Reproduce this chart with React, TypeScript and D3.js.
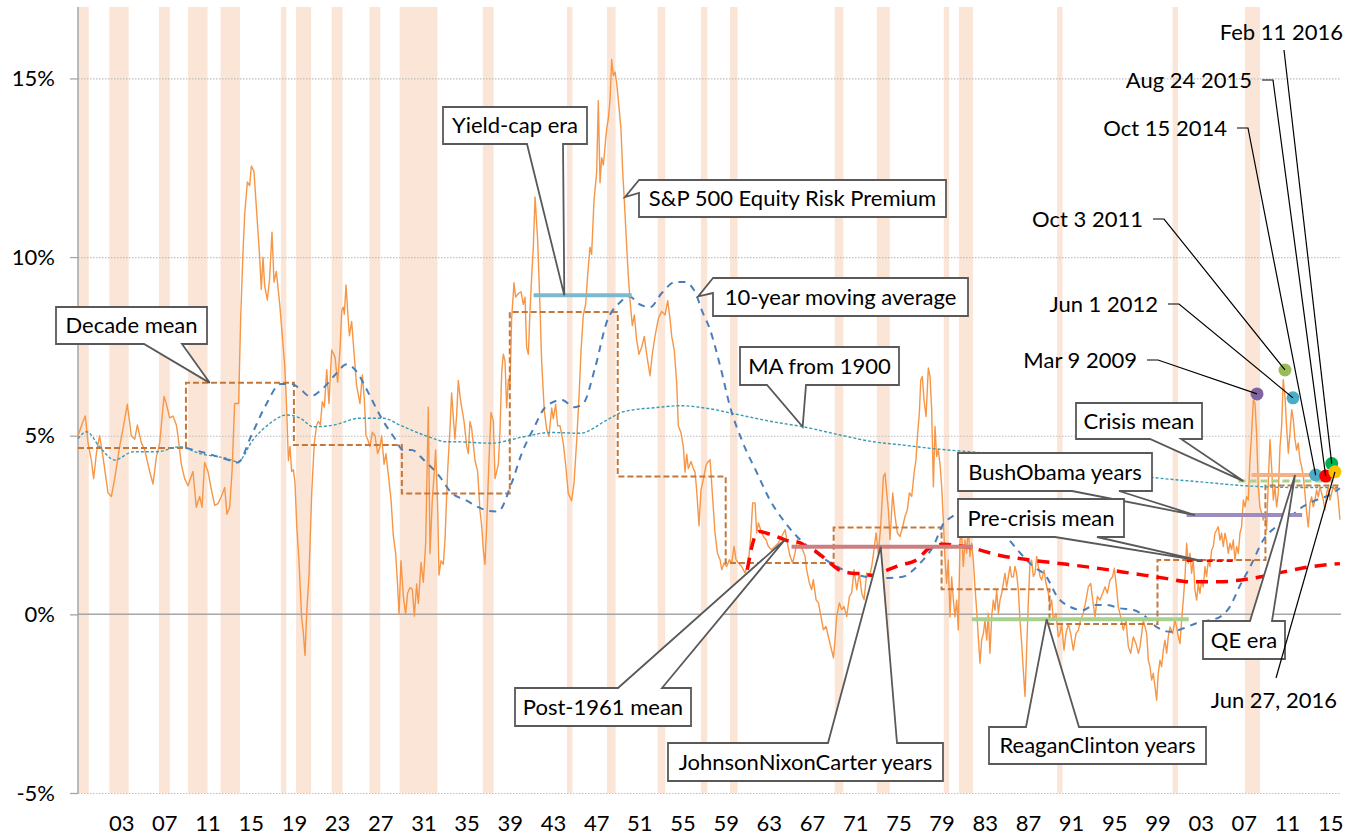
import * as d3 from "d3";
import { useEffect, useRef } from "react";

// recession shading, [start, end] in decimal years
const recessions = [
  [1900.0, 1901.0], [1902.9, 1904.7], [1907.5, 1908.5], [1910.2, 1912.0], [1913.2, 1915.0],
  [1918.8, 1919.3], [1920.2, 1921.6], [1923.5, 1924.5], [1927.0, 1928.0], [1929.8, 1933.3],
  [1937.5, 1938.5], [1945.3, 1945.8], [1949.0, 1949.8], [1953.7, 1954.4], [1957.7, 1958.3],
  [1960.4, 1961.1], [1970.1, 1970.9], [1974.0, 1975.2], [1980.2, 1980.7], [1981.6, 1982.9],
  [1990.7, 1991.2], [2001.4, 2001.9], [2008.1, 2009.5],
];

// S&P 500 equity risk premium, % (year, value)
const erp = [
  [1900.0, 5.0], [1900.46, 5.4], [1900.68, 5.55], [1900.93, 4.8], [1901.24, 4.3], [1901.45, 3.8], [1901.7, 4.5], [1902.0, 5.0],
  [1902.32, 4.4], [1902.78, 3.4], [1903.09, 3.3], [1903.4, 3.8], [1903.86, 4.7], [1904.17, 5.2], [1904.57, 5.88], [1904.94, 5.0],
  [1905.25, 4.9], [1905.5, 5.3], [1905.87, 4.8], [1906.18, 4.6], [1906.64, 4.0], [1906.95, 3.65], [1907.26, 4.4], [1907.57, 4.8],
  [1907.78, 5.5], [1907.97, 6.1], [1908.18, 5.9], [1908.49, 5.5], [1908.8, 5.55], [1909.11, 5.3], [1909.26, 5.0], [1909.57, 4.2],
  [1909.88, 3.8], [1910.19, 3.6], [1910.65, 4.0], [1910.96, 3.0], [1911.27, 3.3], [1911.49, 3.0], [1911.73, 4.25], [1912.04, 4.0],
  [1912.35, 3.5], [1912.66, 3.05], [1912.97, 3.1], [1913.28, 3.3], [1913.59, 3.55], [1913.8, 2.8], [1914.05, 3.0], [1914.27, 4.0],
  [1914.51, 5.9], [1914.88, 5.9], [1915.07, 8.3], [1915.28, 10.1], [1915.44, 11.2], [1915.69, 12.1], [1915.9, 12.0], [1916.06, 12.55],
  [1916.3, 12.4], [1916.52, 11.4], [1916.83, 10.0], [1916.98, 9.1], [1917.14, 10.0], [1917.29, 9.2], [1917.54, 8.8], [1917.75, 9.4],
  [1917.97, 10.7], [1918.16, 9.3], [1918.37, 9.6], [1918.68, 8.7], [1918.9, 7.9], [1919.14, 7.0], [1919.3, 6.0], [1919.49, 4.3],
  [1919.64, 4.7], [1919.79, 4.0], [1919.95, 4.05], [1920.1, 3.7], [1920.26, 2.5], [1920.47, 1.5], [1920.72, -0.1], [1920.87, -0.5],
  [1921.03, -1.15], [1921.18, 0.0], [1921.4, 1.1], [1921.65, 3.4], [1921.89, 4.8], [1922.11, 5.3], [1922.26, 5.4], [1922.45, 5.3],
  [1922.63, 5.95], [1922.82, 5.8], [1923.04, 6.85], [1923.25, 5.9], [1923.5, 7.4], [1923.81, 7.2], [1924.05, 6.5], [1924.27, 7.4],
  [1924.43, 8.5], [1924.58, 8.6], [1924.67, 8.4], [1924.83, 9.22], [1924.98, 8.5], [1925.14, 7.8], [1925.35, 8.2], [1925.6, 7.2],
  [1925.81, 6.4], [1926.12, 5.9], [1926.34, 6.7], [1926.53, 6.0], [1926.68, 5.0], [1926.83, 4.9], [1927.05, 4.7], [1927.27, 5.1],
  [1927.51, 5.0], [1927.76, 4.5], [1927.98, 4.7], [1928.13, 5.0], [1928.35, 4.2], [1928.53, 4.5], [1928.75, 3.9], [1929.0, 3.2],
  [1929.21, 2.2], [1929.43, 1.7], [1929.61, 0.8], [1929.74, 0.0], [1929.92, 1.5], [1930.14, 0.5], [1930.35, 0.0], [1930.54, 0.6],
  [1930.76, 0.75], [1930.97, 0.7], [1931.16, -0.05], [1931.37, 0.85], [1931.53, 0.3], [1931.78, 1.45], [1931.99, 0.9], [1932.21, 2.0],
  [1932.45, 5.8], [1932.61, 1.7], [1932.82, 3.2], [1933.01, 4.0], [1933.13, 4.6], [1933.32, 3.0], [1933.44, 1.1], [1933.63, 1.5],
  [1933.84, 1.4], [1934.0, 2.1], [1934.24, 4.0], [1934.46, 5.2], [1934.61, 6.2], [1934.77, 5.5], [1934.92, 4.9], [1935.08, 5.6],
  [1935.23, 6.55], [1935.39, 6.1], [1935.54, 5.8], [1935.76, 5.4], [1936.01, 4.7], [1936.16, 4.5], [1936.31, 5.4], [1936.47, 5.2],
  [1936.78, 4.3], [1937.02, 4.0], [1937.24, 2.9], [1937.39, 2.5], [1937.55, 1.8], [1937.7, 1.4], [1937.86, 2.5], [1938.07, 4.3],
  [1938.26, 5.65], [1938.48, 5.4], [1938.63, 3.8], [1938.94, 4.2], [1939.09, 5.1], [1939.25, 6.78], [1939.4, 7.28], [1939.56, 7.08],
  [1939.71, 5.78], [1939.87, 6.58], [1940.02, 6.38], [1940.17, 8.28], [1940.39, 9.28], [1940.54, 8.88], [1940.79, 8.98], [1941.04, 9.03],
  [1941.25, 8.68], [1941.41, 8.88], [1941.56, 7.48], [1941.72, 7.28], [1941.87, 8.48], [1942.03, 9.48], [1942.18, 10.28], [1942.34, 11.68],
  [1942.58, 10.48], [1942.8, 8.58], [1942.95, 7.08], [1943.2, 5.68], [1943.42, 5.18], [1943.63, 4.98], [1943.88, 5.78], [1944.03, 5.48],
  [1944.25, 5.88], [1944.43, 5.28], [1944.65, 5.28], [1944.96, 4.78], [1945.18, 4.18], [1945.42, 3.38], [1945.73, 3.18], [1945.95, 3.68],
  [1946.2, 4.88], [1946.41, 6.08], [1946.6, 7.38], [1946.81, 8.38], [1947.03, 8.68], [1947.21, 9.48], [1947.43, 10.28], [1947.58, 10.08],
  [1947.8, 11.58], [1948.05, 12.38], [1948.2, 14.38], [1948.36, 12.08], [1948.51, 12.78], [1948.67, 12.58], [1948.82, 13.08], [1948.97, 13.58],
  [1949.13, 13.88], [1949.28, 14.38], [1949.44, 15.53], [1949.59, 15.08], [1949.75, 15.18], [1949.9, 14.88], [1950.12, 14.18], [1950.3, 13.58],
  [1950.46, 12.38], [1950.61, 11.58], [1950.83, 10.28], [1950.98, 9.48], [1951.14, 8.78], [1951.35, 8.08], [1951.54, 8.38], [1951.75, 7.68],
  [1951.97, 7.28], [1952.22, 7.48], [1952.46, 7.78], [1952.68, 7.28], [1952.99, 6.68], [1953.2, 7.28], [1953.45, 7.78], [1953.76, 8.28],
  [1954.07, 8.48], [1954.38, 8.38], [1954.63, 8.78], [1954.84, 8.28], [1955.0, 7.78], [1955.24, 7.38], [1955.46, 6.48], [1955.61, 5.28],
  [1955.86, 5.08], [1956.08, 4.68], [1956.23, 3.98], [1956.39, 4.48], [1956.54, 4.08], [1956.79, 4.28], [1957.0, 4.08], [1957.16, 3.98],
  [1957.31, 3.48], [1957.53, 2.48], [1957.71, 3.48], [1957.93, 3.78], [1958.18, 4.18], [1958.39, 4.28], [1958.55, 4.33], [1958.8, 3.22],
  [1959.01, 2.28], [1959.23, 1.72], [1959.48, 1.53], [1959.63, 1.25], [1959.85, 1.44], [1960.09, 1.34], [1960.34, 1.53], [1960.56, 1.44],
  [1960.77, 1.9], [1960.96, 1.53], [1961.17, 1.44], [1961.48, 1.34], [1961.79, 1.16], [1962.1, 1.44], [1962.32, 2.18], [1962.5, 3.12],
  [1962.72, 3.12], [1962.87, 2.28], [1963.03, 2.56], [1963.24, 2.37], [1963.49, 2.18], [1963.74, 2.09], [1963.95, 1.9], [1964.26, 1.81],
  [1964.57, 1.9], [1964.88, 2.0], [1965.19, 2.18], [1965.5, 2.37], [1965.71, 2.0], [1965.96, 1.63], [1966.21, 1.44], [1966.42, 1.72],
  [1966.64, 2.09], [1966.89, 1.9], [1967.13, 1.81], [1967.35, 1.63], [1967.5, 1.25], [1967.75, 0.88], [1967.97, 0.69], [1968.12, 0.97],
  [1968.37, 0.41], [1968.59, 0.32], [1968.83, -0.06], [1969.05, -0.43], [1969.3, -0.34], [1969.51, -0.62], [1969.73, -0.9], [1969.98, -1.22],
  [1970.13, -0.71], [1970.28, -0.06], [1970.53, 0.32], [1970.75, 0.13], [1970.96, 0.22], [1971.21, -0.06], [1971.46, 0.5], [1971.67, 0.6],
  [1971.89, 1.25], [1972.14, 0.69], [1972.38, 1.16], [1972.6, 0.6], [1972.82, 0.41], [1973.06, 1.16], [1973.31, 1.06], [1973.53, 1.34],
  [1973.74, 1.81], [1973.93, 2.28], [1974.14, 1.72], [1974.36, 2.46], [1974.61, 3.86], [1974.76, 3.95], [1974.92, 3.4], [1975.07, 2.93],
  [1975.22, 2.09], [1975.47, 3.4], [1975.69, 2.74], [1975.9, 2.28], [1976.15, 2.18], [1976.4, 2.46], [1976.61, 2.74], [1976.83, 2.93],
  [1977.02, 3.4], [1977.23, 3.3], [1977.45, 3.95], [1977.63, 4.33], [1977.76, 4.98], [1977.94, 5.63], [1978.07, 6.56], [1978.22, 6.66],
  [1978.37, 6.0], [1978.56, 5.54], [1978.77, 6.9], [1978.93, 6.66], [1979.08, 5.73], [1979.24, 3.57], [1979.39, 5.26], [1979.54, 4.42],
  [1979.7, 4.6], [1979.85, 4.22], [1980.01, 3.57], [1980.16, 2.64], [1980.32, 1.52], [1980.47, 0.87], [1980.62, 1.52], [1980.78, -0.07],
  [1980.93, 1.05], [1981.09, 0.4], [1981.24, -0.07], [1981.4, 0.4], [1981.55, -0.44], [1981.71, 2.08], [1981.86, 2.27], [1982.01, 1.34],
  [1982.17, 2.08], [1982.32, 1.71], [1982.48, 2.45], [1982.63, 1.62], [1982.79, 1.99], [1982.94, 1.52], [1983.09, 0.77], [1983.25, 0.12],
  [1983.4, -0.63], [1983.56, -1.37], [1983.71, -0.72], [1983.87, -0.54], [1984.02, -0.16], [1984.18, -0.72], [1984.33, 0.03], [1984.48, -1.09],
  [1984.64, -0.07], [1984.79, 0.4], [1984.95, 0.12], [1985.1, 0.68], [1985.26, 0.03], [1985.41, 0.4], [1985.57, 0.59], [1985.72, 0.87],
  [1985.87, 1.15], [1986.03, 0.77], [1986.18, 1.05], [1986.34, 1.34], [1986.49, 1.05], [1986.65, 1.05], [1986.8, 1.34], [1986.95, 1.15],
  [1987.11, 0.68], [1987.26, -0.16], [1987.42, -0.82], [1987.57, -1.56], [1987.73, -2.3], [1987.88, -1.0], [1988.04, 0.4], [1988.19, 1.43],
  [1988.34, 1.52], [1988.5, 1.06], [1988.65, 1.15], [1988.81, 1.62], [1988.96, 1.34], [1989.12, 1.06], [1989.27, 0.96], [1989.49, 1.24],
  [1989.67, 0.87], [1989.89, 0.59], [1990.04, 0.21], [1990.2, 0.4], [1990.35, -0.16], [1990.6, 0.03], [1990.81, -0.63], [1990.97, -0.54],
  [1991.12, -0.26], [1991.34, -1.0], [1991.52, -0.54], [1991.74, -0.26], [1991.96, -0.54], [1992.2, -1.0], [1992.45, -0.54], [1992.67, -0.44],
  [1992.88, -0.16], [1993.13, 0.03], [1993.38, 0.4], [1993.59, 0.77], [1993.81, 0.87], [1994.0, 0.4], [1994.21, -0.07], [1994.43, 0.5],
  [1994.67, 0.4], [1994.92, 0.59], [1995.14, 0.77], [1995.35, 0.59], [1995.6, 0.96], [1995.85, 1.06], [1996.0, 1.29], [1996.16, 0.87],
  [1996.37, 0.21], [1996.59, -0.07], [1996.84, -0.44], [1997.08, -0.16], [1997.3, -0.91], [1997.52, -1.09], [1997.76, -0.63], [1998.01, -0.82],
  [1998.23, -1.09], [1998.38, -0.91], [1998.69, -0.16], [1999.0, -0.54], [1999.15, -1.28], [1999.3, -1.46], [1999.46, -1.84], [1999.61, -1.65],
  [1999.77, -2.02], [1999.92, -2.4], [2000.07, -1.65], [2000.23, -1.28], [2000.38, -1.46], [2000.54, -1.0], [2000.69, -0.72], [2000.85, -1.09],
  [2001.0, -0.63], [2001.16, -0.35], [2001.4, -0.54], [2001.62, -0.16], [2001.77, -0.35], [2001.93, -0.63], [2002.08, -0.82], [2002.24, -0.16],
  [2002.39, 0.4], [2002.55, 1.06], [2002.7, 1.99], [2002.85, 1.43], [2003.01, 1.71], [2003.16, 1.15], [2003.32, 1.52], [2003.47, 0.68],
  [2003.63, 0.4], [2003.78, 0.87], [2003.93, 0.59], [2004.09, 0.96], [2004.24, 0.77], [2004.4, 1.34], [2004.55, 1.06], [2004.71, 1.52],
  [2004.86, 1.34], [2005.02, 1.81], [2005.17, 1.9], [2005.32, 2.27], [2005.48, 2.36], [2005.63, 2.45], [2005.79, 2.08], [2005.94, 2.27],
  [2006.1, 1.9], [2006.25, 2.27], [2006.4, 2.08], [2006.56, 1.71], [2006.71, 1.99], [2006.87, 1.81], [2007.02, 2.08], [2007.18, 1.52],
  [2007.33, 1.9], [2007.49, 1.71], [2007.64, 2.27], [2007.79, 2.45], [2007.95, 3.2], [2008.1, 3.01], [2008.26, 3.29], [2008.41, 3.2],
  [2008.57, 4.32], [2008.72, 5.07], [2008.88, 6.0], [2009.03, 5.91], [2009.18, 5.07], [2009.34, 3.57], [2009.49, 3.01], [2009.65, 2.83],
  [2009.8, 2.64], [2009.96, 2.83], [2010.11, 2.36], [2010.26, 3.67], [2010.42, 4.89], [2010.57, 4.14], [2010.73, 3.2], [2010.88, 3.57],
  [2011.04, 3.01], [2011.19, 3.39], [2011.35, 4.7], [2011.5, 5.26], [2011.65, 6.57], [2011.81, 6.1], [2011.96, 5.26], [2012.12, 4.51],
  [2012.27, 5.07], [2012.43, 5.73], [2012.58, 5.45], [2012.74, 4.89], [2012.89, 4.6], [2013.04, 4.79], [2013.2, 4.32], [2013.35, 4.14],
  [2013.51, 3.86], [2013.66, 3.39], [2013.82, 2.83], [2013.97, 2.45], [2014.13, 3.11], [2014.28, 3.29], [2014.43, 3.01], [2014.59, 3.2],
  [2014.74, 3.48], [2014.9, 3.29], [2015.05, 3.57], [2015.21, 3.39], [2015.36, 3.2], [2015.51, 2.92], [2015.67, 3.39], [2015.82, 3.57],
  [2015.98, 3.2], [2016.13, 3.39], [2016.29, 3.57], [2016.44, 3.48], [2016.6, 3.57], [2016.75, 3.2], [2016.9, 2.65],
];

// decade means (step line)
const decadeStarts = [1900, 1910, 1920, 1930, 1940, 1950, 1960, 1970, 1980, 1990, 2000, 2010, 2017];
const decadeMeans = [4.66, 6.48, 4.74, 3.38, 8.46, 3.86, 1.44, 2.43, 0.7, -0.27, 1.52, 3.61, 3.61];

// 10-year moving average
const ma10 = [
  [1910, 4.66], [1912, 4.5], [1914.2, 4.3], [1914.8, 4.25], [1916.05, 5.0], [1917.3, 5.8], [1918.8, 6.45], [1919.8, 6.45],
  [1920.6, 6.3], [1921.5, 6.1], [1922.6, 6.3], [1923.8, 6.7], [1924.9, 7.0], [1925.8, 6.8], [1926.9, 6.2], [1928.1, 5.5],
  [1929.4, 4.9], [1930.1, 4.6], [1930.9, 4.6], [1932.1, 4.3], [1933.4, 3.9], [1934.6, 3.4], [1935.9, 3.2], [1937.1, 3.0],
  [1938.0, 2.9], [1938.9, 2.88], [1940.2, 3.7], [1941.1, 4.5], [1942.2, 5.2], [1943.3, 5.8], [1944.8, 6.0], [1946.0, 5.8],
  [1946.8, 5.9], [1947.9, 6.9], [1949.0, 8.2], [1950.1, 8.7], [1951.1, 8.9], [1951.9, 8.7], [1953.0, 8.6], [1954.1, 9.0],
  [1955.3, 9.3], [1956.2, 9.3], [1957.2, 9.0], [1957.8, 8.5], [1958.55, 7.97], [1959.5, 6.94], [1960.4, 5.82], [1961.6, 4.8],
  [1962.9, 3.96], [1964.1, 3.2], [1965.3, 2.65], [1966.6, 2.18], [1967.8, 1.86], [1969.0, 1.58], [1970.3, 1.34], [1971.5, 1.16],
  [1972.8, 1.06], [1974.0, 1.02], [1975.2, 1.02], [1976.5, 1.06], [1977.4, 1.25], [1978.0, 1.43], [1979.2, 1.89], [1980.2, 2.55],
  [1980.8, 2.7], [1982.0, 2.88], [1984.2, 2.83], [1986.0, 2.18], [1987.3, 1.71], [1988.5, 1.34], [1989.7, 1.06], [1990.7, 0.5],
  [1991.9, 0.21], [1993.1, 0.12], [1994.1, 0.26], [1995.3, 0.26], [1996.5, 0.17], [1997.8, 0.12], [1998.7, -0.02], [1999.9, -0.35],
  [2001.2, -0.49], [2002.4, -0.39], [2003.6, -0.25], [2004.9, -0.16], [2005.8, -0.07], [2006.7, 0.21], [2007.6, 0.78], [2008.6, 1.34],
  [2009.8, 2.08], [2011.0, 2.46], [2012.3, 2.74], [2013.5, 3.02], [2014.7, 3.2], [2016.0, 3.35], [2016.9, 3.53],
];

// cumulative moving average from 1900
const maFrom1900 = [
  [1900.0, 4.92], [1900.8, 5.11], [1902.0, 4.69], [1903.4, 4.32], [1905.1, 4.55], [1907.3, 4.55], [1909.4, 4.69], [1911.3, 4.5],
  [1913.8, 4.36], [1914.8, 4.27], [1916.2, 4.88], [1917.8, 5.35], [1919.3, 5.58], [1920.6, 5.49], [1921.8, 5.25], [1923.7, 5.3],
  [1926.1, 5.49], [1928.3, 5.49], [1929.8, 5.3], [1932.3, 4.99], [1934.2, 4.83], [1935.1, 4.83], [1938.2, 4.79], [1941.3, 4.97],
  [1943.7, 5.09], [1946.5, 5.07], [1949.0, 5.44], [1950.5, 5.67], [1953.6, 5.79], [1955.8, 5.84], [1958.2, 5.77], [1961.3, 5.58],
  [1964.4, 5.39], [1967.2, 5.25], [1970.6, 5.02], [1973.7, 4.83], [1976.1, 4.75], [1979.2, 4.64], [1984.5, 4.5], [1989.5, 4.3],
  [1994.5, 4.05], [1999.6, 3.83], [2003.9, 3.71], [2008.6, 3.59], [2013.2, 3.55], [2016.9, 3.55],
];

// post-1961 mean
const post1961 = [
  [1962.0, 1.25], [1962.6, 2.09], [1963.1, 2.32], [1963.8, 2.27], [1964.7, 2.18], [1965.6, 2.07], [1966.9, 2.0], [1967.5, 1.89],
  [1968.1, 1.81], [1969.4, 1.51], [1970.6, 1.23], [1971.5, 1.16], [1972.4, 1.14], [1973.7, 1.09], [1974.9, 1.23], [1976.1, 1.37],
  [1977.7, 1.53], [1978.9, 1.86], [1980.2, 1.96], [1982.3, 1.89], [1985.4, 1.65], [1988.5, 1.51], [1991.6, 1.4], [1994.7, 1.28],
  [1997.8, 1.14], [2000.9, 1.0], [2003.0, 0.91], [2005.5, 0.91], [2008.6, 1.0], [2011.7, 1.19], [2014.1, 1.33], [2016.9, 1.42],
];

// era / regime mean segments
const eraNames = ["Yield-cap era", "JohnsonNixonCarter years", "ReaganClinton years", "BushObama years", "QE era", "Crisis mean", "Pre-crisis mean"];
const eraFrom = [1942.2, 1966.1, 1982.8, 2002.7, 2008.7, 2007.5, 2002.7];
const eraTo = [1951.3, 1982.9, 2002.9, 2013.4, 2014.6, 2016.6, 2007.3];
const eraValue = [8.93, 1.89, -0.14, 2.78, 3.9, 3.73, 1.5];

// marked dates
const dotLabels = ["Mar 9 2009", "Oct 3 2011", "Jun 1 2012", "Oct 15 2014", "Aug 24 2015", "Feb 11 2016", "Jun 27, 2016"];
const dotYears = [2009.22, 2011.81, 2012.55, 2014.65, 2015.58, 2016.14, 2016.44];
const dotValues = [6.17, 6.84, 6.06, 3.9, 3.87, 4.22, 3.99];

const tickYears = [1903, 1907, 1911, 1915, 1919, 1923, 1927, 1931, 1935, 1939, 1943, 1947, 1951, 1955, 1959, 1963, 1967, 1971, 1975, 1979, 1983, 1987, 1991, 1995, 1999, 2003, 2007, 2011, 2015];
const tickLabels = ["03", "07", "11", "15", "19", "23", "27", "31", "35", "39", "43", "47", "51", "55", "59", "63", "67", "71", "75", "79", "83", "87", "91", "95", "99", "03", "07", "11", "15"];

const W = 1364;
const H = 835;
const X0 = 78;
const X1 = 1341;
const Y0 = 7;
const Y1 = 793;
const FONT = "Lato, 'Open Sans', sans-serif";
const FS = 22;

const eraStyle = [
  { color: "#7eb8cf", width: 4, dash: null },
  { color: "#cd7f7f", width: 4, dash: null },
  { color: "#a9d18e", width: 4, dash: null },
  { color: "#9d8cc2", width: 4, dash: null },
  { color: "#f4b183", width: 4, dash: null },
  { color: "#a9d18e", width: 3, dash: "7,4" },
  { color: "#ff0000", width: 2.5, dash: "6,4" },
];
const dotColors = ["#8064a2", "#9bbb59", "#4bacc6", "#4bacc6", "#ff0000", "#00b050", "#ffc000"];

// callout boxes: pixel box, side of the wedge, wedge base, tip in data units
const callouts = [
  { text: "Decade mean", box: [56, 307, 151, 37], side: "bottom", base: [144, 182], tip: [1912.2, 6.48] },
  { text: "Yield-cap era", box: [443, 107, 144, 37], side: "bottom", base: [527, 563], tip: [1945.05, 8.93] },
  { text: "S&P 500 Equity Risk Premium", box: [639, 180, 307, 37], side: "left", base: [180, 193], tip: [1950.67, 11.68] },
  { text: "10-year moving average", box: [713, 278, 255, 38], side: "left", base: [278, 293], tip: [1957.46, 8.9] },
  { text: "MA from 1900", box: [740, 347, 159, 38], side: "bottom", base: [767, 806], tip: [1967.13, 5.25] },
  { text: "Post-1961 mean", box: [515, 688, 176, 38], side: "top", base: [618, 662], tip: [1965.49, 2.09] },
  { text: "JohnsonNixonCarter years", box: [668, 743, 275, 38], side: "top", base: [828, 897], tip: [1974.36, 1.89] },
  { text: "ReaganClinton years", box: [989, 727, 217, 37], side: "top", base: [1026, 1079], tip: [1989.73, -0.14] },
  { text: "QE era", box: [1203, 621, 82, 38], side: "top", base: [1250, 1272], tip: [2012.74, 3.9] },
  { text: "Crisis mean", box: [1076, 403, 126, 36], side: "bottom", base: [1150, 1181], tip: [2007.95, 3.73] },
  { text: "BushObama years", box: [958, 453, 194, 38], side: "bottom", base: [1072, 1119], tip: [2003.47, 2.78] },
  { text: "Pre-crisis mean", box: [958, 499, 166, 38], side: "bottom", base: [1055, 1097], tip: [2004.09, 1.5] },
];

// where each date label's text ends, and whether the leader has a short horizontal arm
const dateLabelLayout = [
  { x: 1137, y: 360, arm: true },
  { x: 1143, y: 219, arm: true },
  { x: 1158, y: 304, arm: true },
  { x: 1227, y: 128, arm: true },
  { x: 1252, y: 80, arm: true },
  { x: 1343, y: 32, arm: false, from: [1284, 50] },
  { x: 1337, y: 700, arm: false, from: [1276, 678] },
];

export default function App() {
  const svgRef = useRef<SVGSVGElement>(null);

  useEffect(() => {
    if (svgRef.current) {
      drawChart();
    }
  }, []);

  const drawChart = () => {
    const svg = d3.select(svgRef.current);
    svg.selectAll("*").remove();

    const x = d3.scaleLinear().domain([1900, 2017]).range([X0, X1]);
    const y = d3.scaleLinear().domain([-5, 17]).range([Y1, Y0]);
    const line = d3
      .line<number[]>()
      .x((d) => x(d[0]))
      .y((d) => y(d[1]));

    // recession bands
    svg
      .append("g")
      .selectAll("rect")
      .data(recessions)
      .join("rect")
      .attr("x", (d) => x(d[0]))
      .attr("width", (d) => x(d[1]) - x(d[0]))
      .attr("y", Y0)
      .attr("height", Y1 - Y0)
      .attr("fill", "#fbe5d6");

    // dotted grid
    const grid = svg
      .append("g")
      .attr("transform", `translate(${X0},0)`)
      .call(
        d3
          .axisLeft(y)
          .tickValues([-5, 5, 10, 15])
          .tickSize(-(X1 - X0))
          .tickFormat(() => "")
      );
    grid.select(".domain").remove();
    grid.selectAll("line").attr("stroke", "#bfbfbf").attr("stroke-width", 1.2).attr("stroke-dasharray", "1.5,1.5");

    // y axis
    const yAxis = svg
      .append("g")
      .attr("transform", `translate(${X0},0)`)
      .call(
        d3
          .axisLeft(y)
          .tickValues([-5, 0, 5, 10, 15])
          .tickSize(8)
          .tickPadding(15)
          .tickFormat((d) => `${d}%`)
      );
    yAxis.select(".domain").remove();
    yAxis.selectAll("line").attr("stroke", "#a6a6a6").attr("stroke-width", 1.3);
    yAxis.selectAll("text").attr("font-family", FONT).attr("font-size", FS).attr("fill", "#000");
    svg.append("line").attr("x1", X0).attr("x2", X0).attr("y1", Y0).attr("y2", Y1).attr("stroke", "#a6a6a6").attr("stroke-width", 1.5);
    svg.append("line").attr("x1", X0).attr("x2", X1).attr("y1", y(0)).attr("y2", y(0)).attr("stroke", "#a6a6a6").attr("stroke-width", 1.5);

    // x labels sit at the end of each labelled year
    const xAxis = svg
      .append("g")
      .attr("transform", `translate(0,${Y1})`)
      .call(
        d3
          .axisBottom(x)
          .tickValues(tickYears.map((t) => t + 1))
          .tickSize(0)
          .tickPadding(22)
          .tickFormat((d, i) => tickLabels[i])
      );
    xAxis.select(".domain").remove();
    xAxis.selectAll("text").attr("font-family", FONT).attr("font-size", FS).attr("fill", "#000");

    // equity risk premium
    svg.append("path").datum(erp).attr("d", line).attr("fill", "none").attr("stroke", "#f79646").attr("stroke-width", 1.4).attr("stroke-linejoin", "round");

    // decade means
    const steps = decadeStarts.map((s, i) => [s, decadeMeans[i]]);
    svg
      .append("path")
      .datum(steps)
      .attr("d", line.curve(d3.curveStepAfter))
      .attr("fill", "none")
      .attr("stroke", "#c5773a")
      .attr("stroke-width", 2)
      .attr("stroke-dasharray", "6,3");
    line.curve(d3.curveLinear);

    // moving averages
    svg.append("path").datum(maFrom1900).attr("d", line.curve(d3.curveMonotoneX)).attr("fill", "none").attr("stroke", "#3a9bb5").attr("stroke-width", 1.4).attr("stroke-dasharray", "3,2");
    svg.append("path").datum(ma10).attr("d", line).attr("fill", "none").attr("stroke", "#4a7ebb").attr("stroke-width", 2).attr("stroke-dasharray", "7,6");
    svg.append("path").datum(post1961).attr("d", line).attr("fill", "none").attr("stroke", "#ff0000").attr("stroke-width", 3.5).attr("stroke-dasharray", "12,8");
    line.curve(d3.curveLinear);

    // era segments
    eraNames.forEach((_, i) => {
      const s = eraStyle[i];
      svg
        .append("line")
        .attr("x1", x(eraFrom[i]))
        .attr("x2", x(eraTo[i]))
        .attr("y1", y(eraValue[i]))
        .attr("y2", y(eraValue[i]))
        .attr("stroke", s.color)
        .attr("stroke-width", s.width)
        .attr("stroke-dasharray", s.dash);
    });

    // callouts
    callouts.forEach((c) => {
      const [bx, by, bw, bh] = c.box;
      const x1 = bx + bw;
      const y1 = by + bh;
      const tx = x(c.tip[0]);
      const ty = y(c.tip[1]);
      const [a, b] = c.base;
      let p = "";
      if (c.side === "bottom") p = `M${bx},${by}H${x1}V${y1}H${b}L${tx},${ty}L${a},${y1}H${bx}Z`;
      if (c.side === "top") p = `M${bx},${by}H${a}L${tx},${ty}L${b},${by}H${x1}V${y1}H${bx}Z`;
      if (c.side === "left") p = `M${bx},${a}L${tx},${ty}L${bx},${b}V${y1}H${x1}V${by}H${bx}Z`;
      svg.append("path").attr("d", p).attr("fill", "#fff").attr("stroke", "#595959").attr("stroke-width", 1.8).attr("stroke-linejoin", "miter");
      svg
        .append("text")
        .attr("x", bx + bw / 2)
        .attr("y", by + bh / 2)
        .attr("dy", "0.35em")
        .attr("text-anchor", "middle")
        .attr("font-family", FONT)
        .attr("font-size", FS)
        .attr("fill", "#000")
        .text(c.text);
    });

    // dots
    dotLabels.forEach((_, i) => {
      svg.append("circle").attr("cx", x(dotYears[i])).attr("cy", y(dotValues[i])).attr("r", 6.5).attr("fill", dotColors[i]);
    });

    // date labels and leaders
    dotLabels.forEach((label, i) => {
      const l = dateLabelLayout[i];
      const px = x(dotYears[i]);
      const py = y(dotValues[i]);
      const pts = l.arm
        ? [[l.x + 10, l.y], [l.x + 21, l.y], [px, py]]
        : [l.from, [px, py]];
      svg
        .append("path")
        .attr("d", d3.line()(pts as [number, number][]))
        .attr("fill", "none")
        .attr("stroke", "#000")
        .attr("stroke-width", 1.2);
      svg
        .append("text")
        .attr("x", l.x)
        .attr("y", l.y)
        .attr("dy", "0.35em")
        .attr("text-anchor", "end")
        .attr("font-family", FONT)
        .attr("font-size", FS)
        .attr("fill", "#000")
        .text(label);
    });
  };

  return <svg ref={svgRef} width={W} height={H} style={{ position: "absolute", left: 0, top: 0, background: "#fff" }} />;
}
